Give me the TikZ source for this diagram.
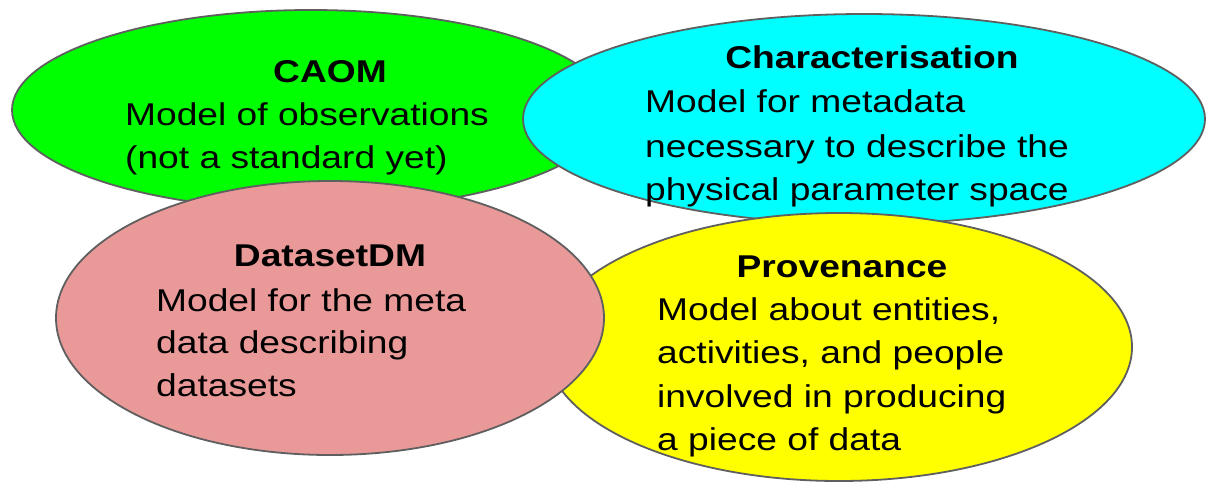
\documentclass[tikz,border=0pt]{standalone}
\usepackage{fontspec}
\setmainfont{Liberation Sans}[FakeStretch=1.18]
\usetikzlibrary{shapes.geometric}
\definecolor{outline}{HTML}{5F5F5F}
\definecolor{caomgreen}{HTML}{00FF00}
\definecolor{charcyan}{HTML}{00FFFF}
\definecolor{provyellow}{HTML}{FFFF00}
\definecolor{dsetpink}{HTML}{EA9999}
\begin{document}
\begin{tikzpicture}[x=1pt,y=-1pt,
  blob/.style={ellipse, draw=outline, line width=1.8pt, inner sep=0pt},
  txt/.style={anchor=base west, inner sep=0pt, font=\fontsize{31.5}{43.5}\selectfont},
  ttl/.style={anchor=base, inner sep=0pt, font=\fontsize{31.5}{43.5}\selectfont\bfseries}]
\useasboundingbox (0,0) rectangle (1207,483);
% ellipses
\node[blob, fill=caomgreen, minimum width=598pt, minimum height=200pt] (caom) at (311,110) {};
\node[blob, fill=charcyan, minimum width=682pt, minimum height=210pt] (char) at (864,119) {};
\node[blob, fill=provyellow, minimum width=586pt, minimum height=268pt] (prov) at (839,347) {};
\node[blob, fill=dsetpink, minimum width=548pt, minimum height=274pt] (dset) at (330,318) {};
% CAOM
\node[ttl] (caomT) at (330,82) {CAOM};
\node[txt] (caom1) at (125,125) {Model of observations};
\node[txt] (caom2) at (125,168) {(not a standard yet)};
% Characterisation
\node[ttl] (charT) at (872,68) {Characterisation};
\node[txt] (char1) at (645,112) {Model for metadata};
\node[txt] (char2) at (645,157) {necessary to describe the};
\node[txt] (char3) at (645,200) {physical parameter space};
% DatasetDM
\node[ttl] (dsetT) at (330,266) {DatasetDM};
\node[txt] (dset1) at (156,311) {Model for the meta};
\node[txt] (dset2) at (156,353) {data describing};
\node[txt] (dset3) at (156,396) {datasets};
% Provenance
\node[ttl] (provT) at (842,277) {Provenance};
\node[txt] (prov1) at (657,320) {Model about entities,};
\node[txt] (prov2) at (657,363) {activities, and people};
\node[txt] (prov3) at (657,407) {involved in producing};
\node[txt] (prov4) at (657,450) {a piece of data};
\end{tikzpicture}
\end{document}
